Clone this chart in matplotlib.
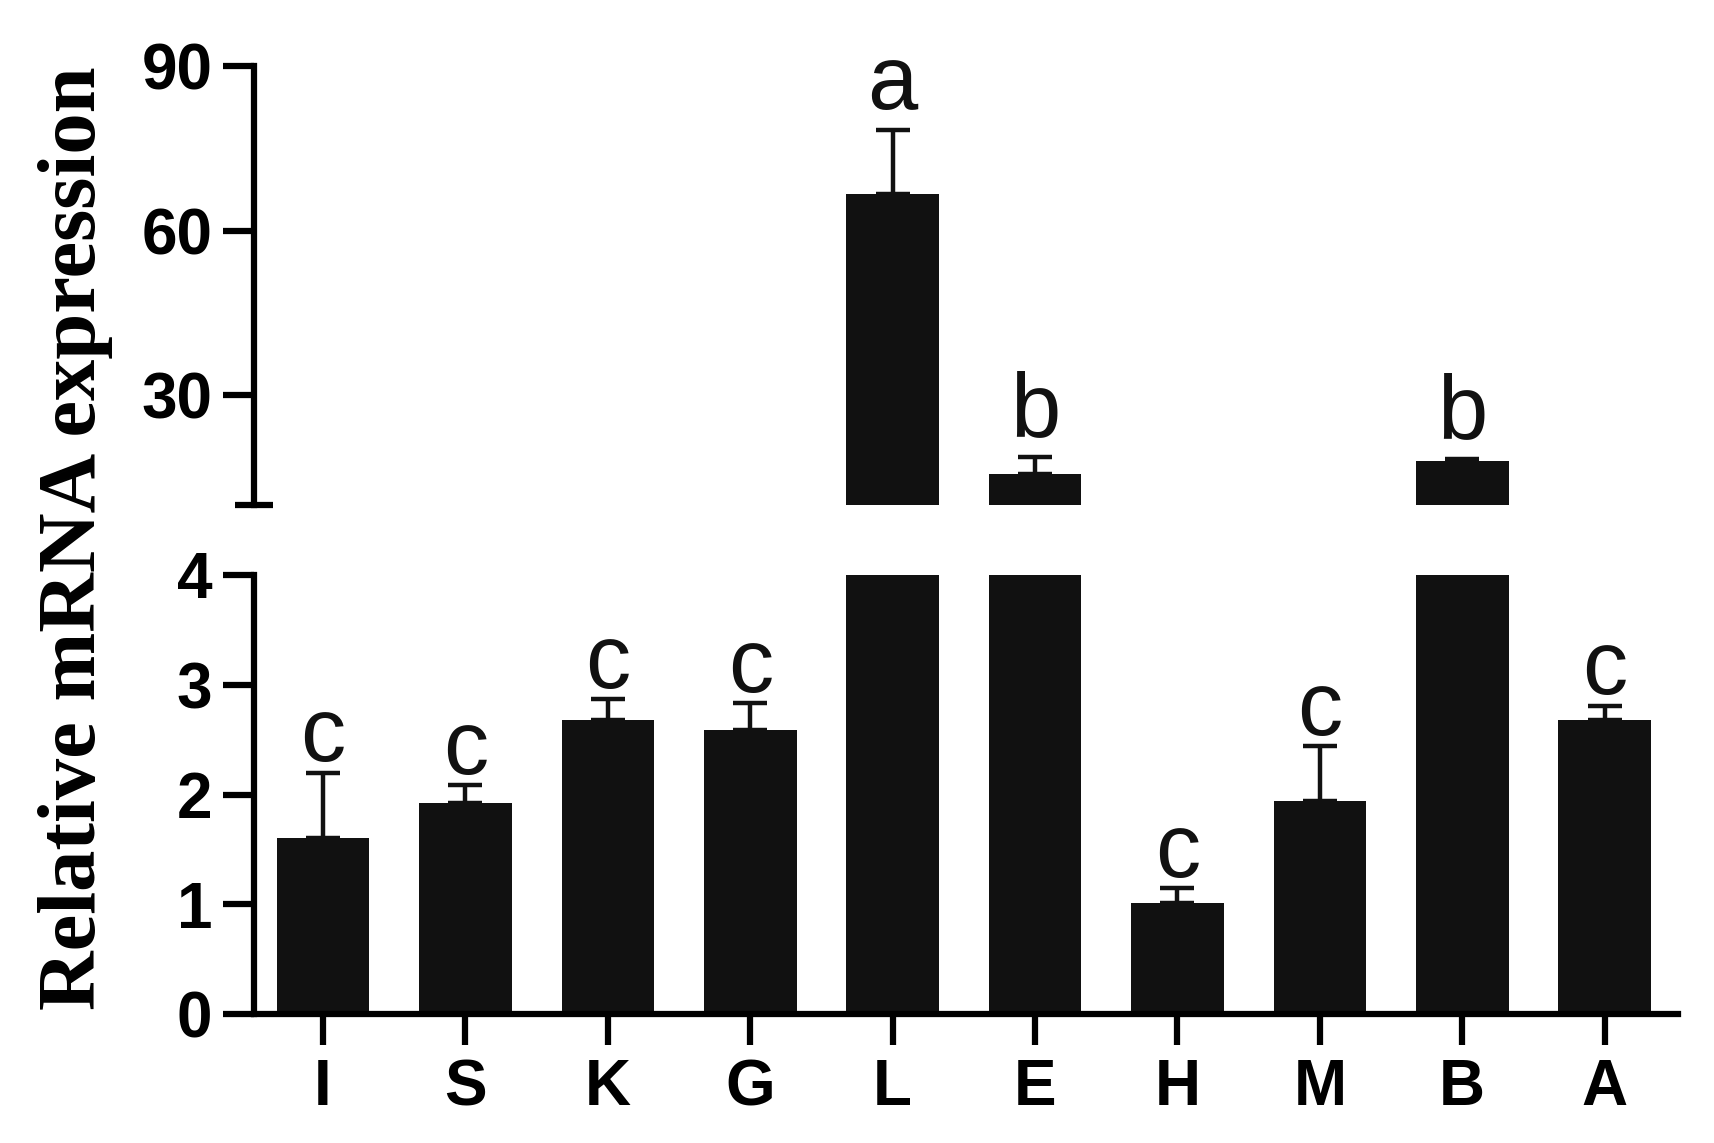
import matplotlib
matplotlib.use("Agg")
import matplotlib.pyplot as plt
from matplotlib import font_manager as fm
import numpy as np

# ---- data ----
categories = ["I", "S", "K", "G", "L", "E", "H", "M", "B", "A"]
means = [1.60, 1.92, 2.68, 2.59, 66.6, 15.6, 1.01, 1.94, 18.0, 2.68]
errors = [0.60, 0.17, 0.19, 0.24, 11.8, 3.2, 0.14, 0.50, 0.4, 0.13]
letters = ["c", "c", "c", "c", "a", "b", "c", "c", "b", "c"]
upper_ticks = [30, 60, 90]
lower_ticks = [0, 1, 2, 3, 4]

names = {f.name for f in fm.fontManager.ttflist}
narrow = "Liberation Sans Narrow" if "Liberation Sans Narrow" in names else "Liberation Sans"

W, H = 1714, 1143
fig = plt.figure(figsize=(W / 100, H / 100), dpi=100)

left = 254 / W
right = 1678 / W
ax_up = fig.add_axes([left, 1 - 505 / H, right - left, (505 - 66) / H])
ax_lo = fig.add_axes([left, 1 - 1014 / H, right - left, (1014 - 575) / H])

x = np.arange(len(categories))
barcol = "#111111"
lw = 4.5
ekw = dict(ecolor=barcol, elinewidth=3.2, capsize=12, capthick=3.2)
zeros = np.zeros(len(means))
ticksize = 46

for ax in (ax_up, ax_lo):
    ax.bar(x, means, width=0.65, color=barcol, yerr=[zeros, errors], error_kw=ekw, zorder=2)
    ax.set_xlim(-0.485, len(categories) - 0.485)
    for s in ("top", "right"):
        ax.spines[s].set_visible(False)
    ax.spines["left"].set_linewidth(lw)
    ax.spines["bottom"].set_linewidth(lw)

ax_up.set_ylim(10, 90)
ax_up.set_yticks(upper_ticks)
ax_up.set_yticks([10], minor=True)
ax_up.spines["bottom"].set_visible(False)
ax_up.set_xticks([])

ax_lo.set_ylim(0, 4)
ax_lo.set_yticks(lower_ticks)
ax_lo.set_yticks([4], minor=True)
ax_lo.set_xticks(x)
ax_lo.set_xticklabels(categories)

for ax in (ax_up, ax_lo):
    ax.tick_params(axis="y", which="major", direction="out", length=22, width=lw, pad=8)
    ax.tick_params(axis="y", which="minor", direction="inout", length=28, width=lw)
ax_lo.tick_params(axis="x", direction="out", length=22, width=lw, pad=10)

for ax in (ax_up, ax_lo):
    for lab in ax.get_yticklabels() + ax.get_xticklabels():
        lab.set_fontfamily("Liberation Sans")
        lab.set_fontweight("bold")
        lab.set_fontsize(ticksize)

# significance letters
letter_offset = {"a": 15, "b": 15, "c": 8}
for i, (m, e, t) in enumerate(zip(means, errors, letters)):
    top = m + e
    ax = ax_lo if top <= 4 else ax_up
    ax.annotate(t, xy=(x[i], top), xytext=(0, letter_offset[t]), textcoords="offset points",
                ha="center", va="baseline", fontsize=65, family=[narrow, "DejaVu Sans"],
                color=barcol, annotation_clip=False)

fig.text(76 / W, 1 - 538 / H, "Relative mRNA expression", rotation=90,
         ha="center", va="center", fontsize=59.5, fontweight="bold",
         family=["Liberation Serif", "DejaVu Serif"])

fig.savefig("out.png", dpi=100, facecolor="white")
